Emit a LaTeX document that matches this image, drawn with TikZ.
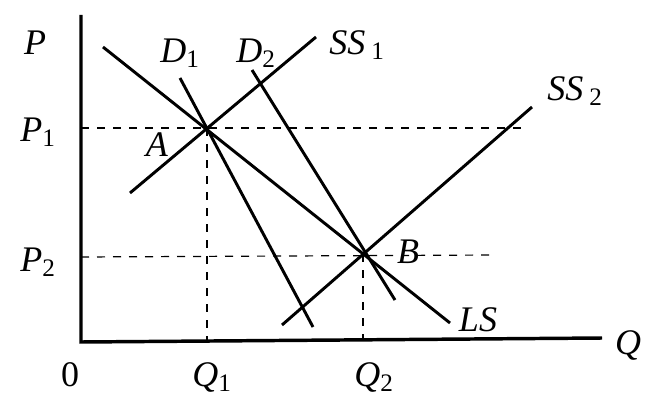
\documentclass[tikz,border=0pt]{standalone}
\usepackage{fontspec}
\setmainfont{Liberation Serif}
\newcommand{\lbl}[2]{\textit{#1}\textsubscript{#2}}
\begin{document}
\begin{tikzpicture}[x=0.75pt,y=-0.75pt,
  axis/.style={line width=2.6pt},
  curve/.style={line width=2.2pt},
  guide/.style={line width=0.9pt,dash pattern=on 6pt off 6pt},
  txt/.style={font=\fontsize{27}{31}\selectfont,inner sep=0pt}]
\useasboundingbox (0,0) rectangle (645,406);
% axes
\coordinate (O) at (81,342);
\coordinate (Ytop) at (81,15);
\coordinate (Xend) at (602,338);
\draw[axis] (Ytop) -- (O) -- (Xend);
% key points
\coordinate (A) at (207,128);
\coordinate (B) at (363,254);
\coordinate (P1) at (81,128);
\coordinate (P1e) at (527,128);
\coordinate (P2) at (81,257);
\coordinate (P2e) at (493,255);
\coordinate (Q1) at (207,342);
\coordinate (Q2) at (363,339);
% guides
\draw[guide] (P1) -- (P1e);
\draw[guide] (P2) -- (P2e);
\draw[guide] (A) -- (Q1);
\draw[guide] (B) -- (Q2);
% curves
\coordinate (LSa) at (103,47);
\coordinate (LSb) at (450,323);
\coordinate (SS1a) at (130,193);
\coordinate (SS1b) at (316,37);
\coordinate (D1a) at (180,78);
\coordinate (D1b) at (313,327);
\coordinate (D2a) at (252,70);
\coordinate (D2b) at (395,300);
\coordinate (SS2a) at (282,325);
\coordinate (SS2b) at (532,107);
\draw[curve] (LSa) -- (LSb);
\draw[curve] (SS1a) -- (SS1b);
\draw[curve] (D1a) -- (D1b);
\draw[curve] (D2a) -- (D2b);
\draw[curve] (SS2a) -- (SS2b);
% labels
\node[txt] (lP) at (35,43) {\textit{P}};
\node[txt] (lP1) at (38,132) {\lbl{P}{1}};
\node[txt] (lP2) at (38,262) {\lbl{P}{2}};
\node[txt] (l0) at (70,375) {0};
\node[txt] (lQ1) at (212,377) {\lbl{Q}{1}};
\node[txt] (lQ2) at (374,377) {\lbl{Q}{2}};
\node[txt] (lQ) at (628,345) {\textit{Q}};
\node[txt] (lD1) at (180,53) {\lbl{D}{1}};
\node[txt] (lD2) at (256,53) {\lbl{D}{2}};
\node[txt] (lSS1) at (357,45) {\textit{SS}\,\textsubscript{1}};
\node[txt] (lSS2) at (575,91) {\textit{SS}\,\textsubscript{2}};
\node[txt] (lA) at (157,145) {\textit{A}};
\node[txt] (lB) at (408,252) {\textit{B}};
\node[txt] (lLS) at (478,320) {\textit{LS}};
\end{tikzpicture}
\end{document}
